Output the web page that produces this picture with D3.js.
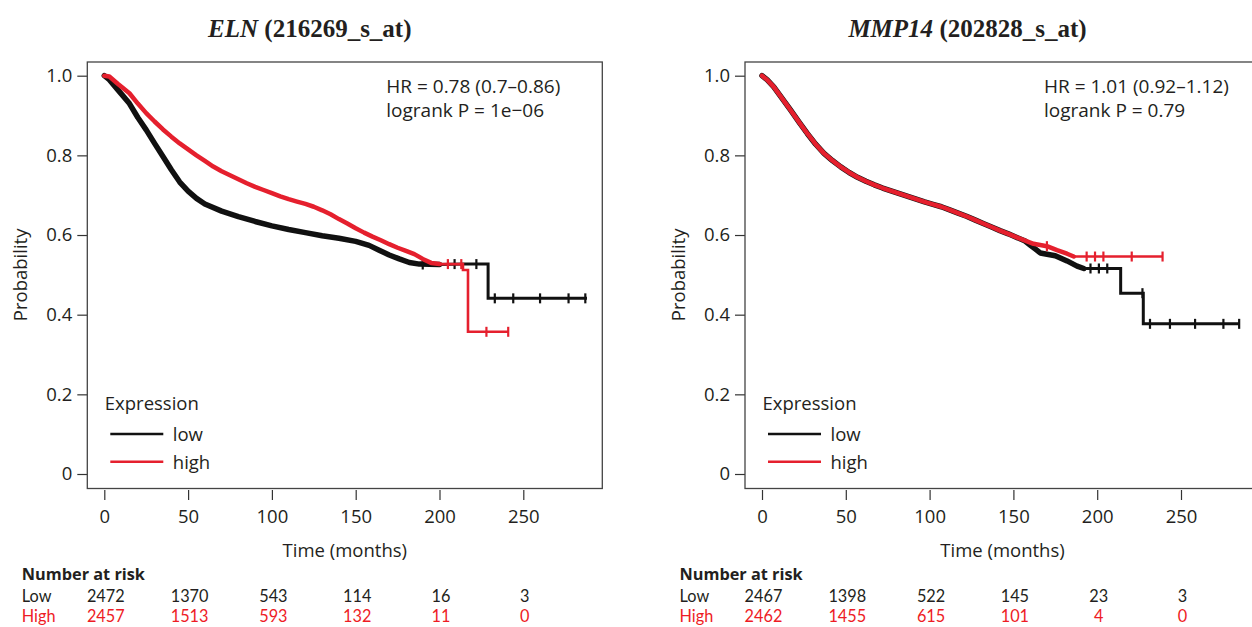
<!DOCTYPE html>
<html>
<head>
<meta charset="utf-8">
<script src="https://cdn.jsdelivr.net/npm/d3@7"></script>
<style>
  html, body { margin: 0; padding: 0; background: #fff; }
  svg { display: block; }
  text { font-family: "Open Sans", "Noto Sans", sans-serif; fill: #231f20; }
  .risk { font-family: Lato, "Open Sans", sans-serif; }
</style>
</head>
<body>
<svg id="chart" width="1252" height="627"></svg>
<script>
// ---------------- data ----------------
const timeTicks = [0, 50, 100, 150, 200, 250];
const probTicks = [0, 0.2, 0.4, 0.6, 0.8, 1.0];
const seriesNames = ["low", "high"];
const riskRowLabels = ["Low", "High"];

// ELN (216269_s_at)
const elnLow = [[0,1.0],[3,0.99],[8,0.965],[15,0.93],[20,0.895],[25,0.864],[30,0.83],[35,0.797],[40,0.764],[45,0.733],[50,0.71],[55,0.692],[60,0.678],[70,0.66],[80,0.646],[90,0.634],[100,0.623],[110,0.614],[120,0.606],[130,0.598],[140,0.592],[150,0.584],[158,0.574],[164,0.562],[170,0.55],[176,0.54],[182,0.531],[188,0.527],[200,0.526],[215,0.527],[229,0.527],[229,0.441],[288,0.441]];
const elnHigh = [[0,1.0],[3,0.998],[8,0.98],[15,0.956],[20,0.93],[25,0.906],[30,0.885],[35,0.865],[40,0.847],[45,0.83],[50,0.815],[55,0.8],[60,0.786],[65,0.772],[70,0.76],[75,0.75],[80,0.74],[85,0.73],[90,0.721],[95,0.713],[100,0.705],[105,0.697],[110,0.69],[115,0.684],[120,0.678],[125,0.671],[130,0.662],[135,0.652],[140,0.64],[145,0.629],[150,0.617],[155,0.606],[160,0.596],[165,0.587],[170,0.577],[175,0.568],[180,0.56],[185,0.552],[190,0.54],[195,0.53],[200,0.527],[214,0.527],[214,0.512],[217,0.512],[217,0.357],[241,0.357]];
const elnLowCensor = [[190,0.526],[209,0.527],[222,0.527],[233,0.441],[244,0.441],[260,0.441],[277,0.441],[287,0.441]];
const elnHighCensor = [[205,0.527],[213,0.527],[228,0.357],[241,0.357]];
const elnRiskLow = [2472, 1370, 543, 114, 16, 3];
const elnRiskHigh = [2457, 1513, 593, 132, 11, 0];
const elnStats = ["HR = 0.78 (0.7\u20130.86)", "logrank P = 1e\u221206"];

// MMP14 (202828_s_at)
const mmpLow = [[0,1.0],[3,0.99],[7,0.972],[12,0.943],[17,0.914],[22,0.884],[27,0.855],[32,0.828],[37,0.805],[42,0.787],[47,0.771],[52,0.757],[57,0.745],[62,0.735],[67,0.726],[72,0.718],[77,0.711],[82,0.704],[87,0.697],[92,0.69],[97,0.683],[102,0.677],[107,0.671],[112,0.663],[117,0.655],[122,0.647],[127,0.638],[132,0.629],[137,0.62],[142,0.611],[147,0.603],[152,0.594],[157,0.585],[160,0.575],[163,0.565],[166,0.555],[175,0.548],[182,0.535],[188,0.522],[192,0.516],[214,0.516],[214,0.454],[227.5,0.454],[227.5,0.377],[285,0.377]];
const mmpHigh = [[0,1.0],[3,0.99],[7,0.972],[12,0.943],[17,0.914],[22,0.884],[27,0.855],[32,0.828],[37,0.805],[42,0.787],[47,0.771],[52,0.757],[57,0.745],[62,0.735],[67,0.726],[72,0.718],[77,0.711],[82,0.704],[87,0.697],[92,0.69],[97,0.683],[102,0.677],[107,0.671],[112,0.663],[117,0.655],[122,0.647],[127,0.638],[132,0.629],[137,0.62],[142,0.611],[147,0.603],[152,0.594],[157,0.586],[162,0.578],[170,0.572],[176,0.562],[182,0.553],[186,0.546],[239,0.546]];
const mmpLowCensor = [[196,0.516],[201,0.516],[206,0.516],[227,0.454],[231.5,0.377],[243.4,0.377],[258.4,0.377],[275.3,0.377],[284.7,0.377]];
const mmpHighCensor = [[170,0.572],[193.7,0.546],[198.7,0.546],[203.7,0.546],[220.6,0.546],[239,0.546]];
const mmpRiskLow = [2467, 1398, 522, 145, 23, 3];
const mmpRiskHigh = [2462, 1455, 615, 101, 4, 0];
const mmpStats = ["HR = 1.01 (0.92\u20131.12)", "logrank P = 0.79"];

// time until which censoring is dense (curve drawn thicker)
const denseUntil = { eln: [205, 205], mmp: [196, 190] };

// ---------------- drawing ----------------
const svg = d3.select("#chart");
svg.append("rect").attr("width", 1252).attr("height", 627).attr("fill", "#fff");

const colors = { low: "#111111", high: "#e5202e" };
const tableRed = "#ee1c25";

function drawPanel(p) {
  const boxL = p.boxLeft, boxR = p.boxLeft + 515, boxT = 62, boxB = 488.5;
  const x = d3.scaleLinear().domain([0, 250]).range([boxL + 17, boxL + 17 + 419]);
  const y = d3.scaleLinear().domain([0, 1]).range([474, 75.7]);
  const g = svg.append("g");

  // title
  const title = g.append("text")
    .attr("x", (boxL + boxR) / 2 - 35).attr("y", 37)
    .attr("text-anchor", "middle")
    .style("font-family", "'Liberation Serif', 'Times New Roman', serif")
    .style("font-weight", "bold").style("font-size", "25px");
  title.append("tspan").style("font-style", "italic").text(p.gene);
  title.append("tspan").text(" " + p.probe);

  // y axis
  const yAxis = d3.axisLeft(y).tickValues(probTicks).tickSize(10).tickPadding(5)
    .tickFormat(d => d === 0 ? "0" : d3.format(".1f")(d));
  const ya = g.append("g").attr("transform", `translate(${boxL},0)`).call(yAxis);
  ya.select(".domain").remove();
  ya.selectAll("line").attr("stroke", "#333").attr("stroke-width", 1.2);
  ya.selectAll("text").style("font-size", "18.5px").attr("fill", "#231f20")
    .style("font-family", "'Open Sans', sans-serif");

  // x axis
  const xAxis = d3.axisBottom(x).tickValues(timeTicks).tickSize(10).tickPadding(10);
  const xa = g.append("g").attr("transform", `translate(0,${boxB + 1.5})`).call(xAxis);
  xa.select(".domain").remove();
  xa.selectAll("line").attr("stroke", "#333").attr("stroke-width", 1.2);
  xa.selectAll("text").style("font-size", "18.5px").attr("fill", "#231f20")
    .style("font-family", "'Open Sans', sans-serif");

  // axis titles
  g.append("text").attr("x", (boxL + boxR) / 2).attr("y", 556.5)
    .attr("text-anchor", "middle").style("font-size", "18.5px").text("Time (months)");
  g.append("text")
    .attr("transform", `translate(${boxL - 60},${(y(0) + y(1)) / 2}) rotate(-90)`)
    .attr("text-anchor", "middle").style("font-size", "18.5px").text("Probability");

  // box
  g.append("rect").attr("x", boxL).attr("y", boxT)
    .attr("width", boxR - boxL).attr("height", boxB - boxT)
    .attr("fill", "none").attr("stroke", "#444").attr("stroke-width", 1.3);

  // curves
  const line = d3.line().x(d => x(d[0])).y(d => y(d[1])).curve(d3.curveLinear);
  p.series.forEach((s, i) => {
    const col = colors[seriesNames[i]];
    g.append("path").datum(s.values.filter(d => d[0] <= s.dense))
      .attr("d", line).attr("fill", "none").attr("stroke", col)
      .attr("stroke-width", i === 0 ? 5.5 : 4.5).attr("stroke-linejoin", "round").attr("stroke-linecap", "round");
    g.append("path").datum(s.values)
      .attr("d", line).attr("fill", "none").attr("stroke", col)
      .attr("stroke-width", i === 0 ? 3 : 2.6).attr("stroke-linejoin", "miter");
    g.selectAll(null).data(s.censor).enter().append("line")
      .attr("x1", d => x(d[0])).attr("x2", d => x(d[0]))
      .attr("y1", d => y(d[1]) - 5).attr("y2", d => y(d[1]) + 5)
      .attr("stroke", col).attr("stroke-width", 2.2);
  });

  // stats text
  p.stats.forEach((t, i) => {
    g.append("text").attr("x", boxL + 299).attr("y", 93.3 + i * 23.4)
      .style("font-size", "19px").text(t);
  });

  // legend
  g.append("text").attr("x", boxL + 17.5).attr("y", 410).style("font-size", "18.5px").text("Expression");
  seriesNames.forEach((n, i) => {
    const ly = 434 + i * 27.7;
    g.append("line").attr("x1", boxL + 23).attr("x2", boxL + 76)
      .attr("y1", ly).attr("y2", ly).attr("stroke", colors[n]).attr("stroke-width", 2.5);
    g.append("text").attr("x", boxL + 85.5).attr("y", ly + 7).style("font-size", "18.5px").text(n);
  });

  // number at risk table
  g.append("text").attr("x", boxL - 65.5).attr("y", 580)
    .style("font-size", "16.3px").style("font-weight", "bold").text("Number at risk");
  [p.riskLow, p.riskHigh].forEach((row, r) => {
    const ry = 602 + r * 20;
    const fill = r === 0 ? "#231f20" : tableRed;
    g.append("text").attr("class", "risk").attr("x", boxL - 65.5).attr("y", ry).style("font-size", "16.3px")
      .style("fill", fill).text(riskRowLabels[r]);
    g.selectAll(null).data(row).enter().append("text").attr("class", "risk")
      .attr("x", (d, k) => x(timeTicks[k]) + 1.5).attr("y", ry)
      .attr("text-anchor", "middle").style("font-size", "16.3px").style("fill", fill)
      .text(d => d);
  });
}

drawPanel({
  boxLeft: 87.3, gene: "ELN", probe: "(216269_s_at)",
  series: [
    { values: elnLow, censor: elnLowCensor, dense: denseUntil.eln[0] },
    { values: elnHigh, censor: elnHighCensor, dense: denseUntil.eln[1] }
  ],
  stats: elnStats, riskLow: elnRiskLow, riskHigh: elnRiskHigh
});
drawPanel({
  boxLeft: 745, gene: "MMP14", probe: "(202828_s_at)",
  series: [
    { values: mmpLow, censor: mmpLowCensor, dense: denseUntil.mmp[0] },
    { values: mmpHigh, censor: mmpHighCensor, dense: denseUntil.mmp[1] }
  ],
  stats: mmpStats, riskLow: mmpRiskLow, riskHigh: mmpRiskHigh
});
</script>
</body>
</html>
